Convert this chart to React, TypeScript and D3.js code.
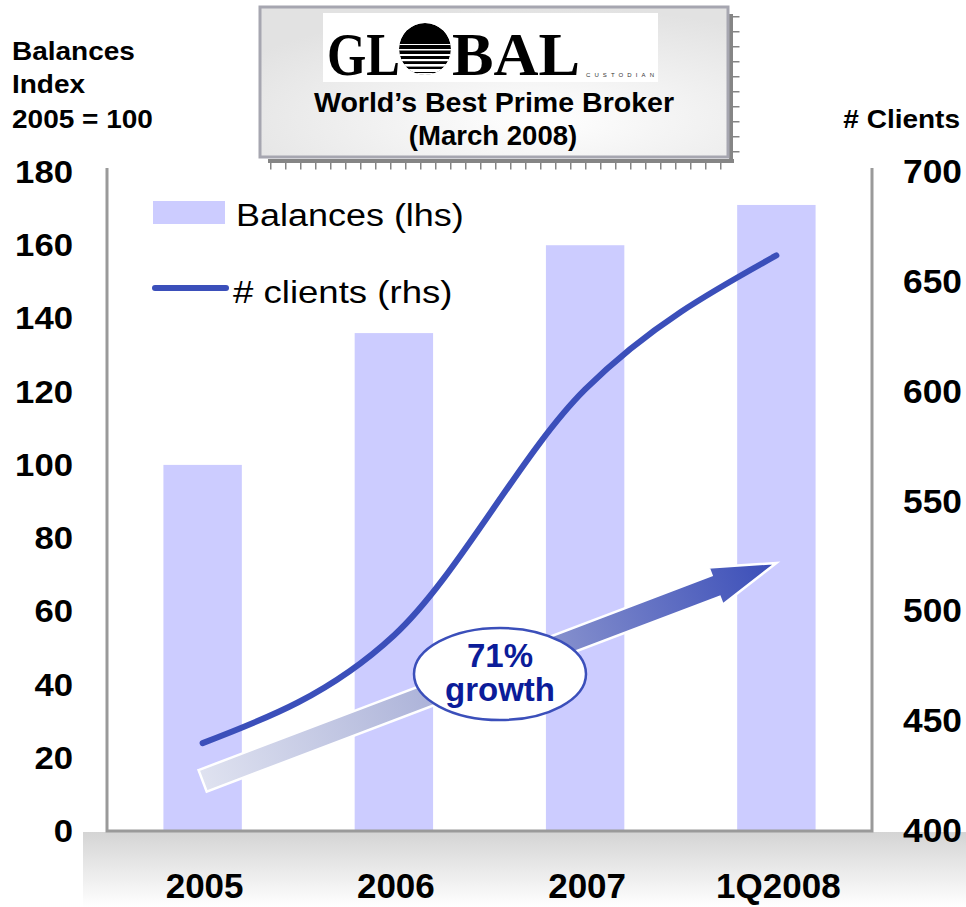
import React from "react";
import * as d3 from "d3";

const categories = ["2005", "2006", "2007", "1Q2008"];
const balances = [100, 136, 160, 171];
const clients = [440, 489, 601, 662];
const leftTicks = [0, 20, 40, 60, 80, 100, 120, 140, 160, 180];
const rightTicks = [400, 450, 500, 550, 600, 650, 700];

const W = 966;
const H = 907;
const FONT = "'Liberation Sans', Arial, Helvetica, sans-serif";
const SERIF = "'Liberation Serif', 'Times New Roman', serif";
const BAR = "#CCCCFF";
const LINE = "#3B4FBA";

type TProps = {
  x: number;
  y: number;
  size: number;
  sx?: number;
  anchor?: "start" | "middle" | "end";
  weight?: string | number;
  fill?: string;
  family?: string;
  children: React.ReactNode;
};

function T({ x, y, size, sx = 1, anchor = "start", weight = "bold", fill = "#000", family = FONT, children }: TProps) {
  return (
    <text
      transform={`translate(${x},${y}) scale(${sx},1)`}
      fontSize={size}
      fontFamily={family}
      fontWeight={weight}
      textAnchor={anchor}
      fill={fill}
    >
      {children}
    </text>
  );
}

export default function App() {
  const plotL = 107;
  const plotR = 872;
  const plotB = 831;
  const plotT = 172;
  const frameT = 168;

  const x = d3.scaleBand<string>().domain(categories).range([plotL, plotR]).padding(0);
  const cx = (c: string) => (x(c) as number) + x.bandwidth() / 2;
  const barW = x.bandwidth() * 0.41;
  const yL = d3.scaleLinear().domain([0, 180]).range([plotB, plotT]);
  const yR = d3.scaleLinear().domain([400, 700]).range([plotB, plotT]);

  const linePath = d3
    .line<number>()
    .x((_, i) => cx(categories[i]))
    .y((d) => yR(d))
    .curve(d3.curveMonotoneX)(clients) as string;

  // growth arrow annotation (from 2005 to 1Q2008, in lhs units)
  const tail: [number, number] = [cx(categories[0]), yL(13.7)];
  const tip: [number, number] = [cx(categories[3]), yL(73.2)];
  const dx = tip[0] - tail[0];
  const dy = tip[1] - tail[1];
  const len = Math.hypot(dx, dy);
  const ux = dx / len, uy = dy / len;
  const nx = -uy, ny = ux;
  const shaftHW = 11.5, headHW = 20, headLen = 65;
  const base: [number, number] = [tip[0] - headLen * ux, tip[1] - headLen * uy];
  const pts: [number, number][] = [
    [tail[0] - shaftHW * nx, tail[1] - shaftHW * ny],
    [base[0] - shaftHW * nx, base[1] - shaftHW * ny],
    [base[0] - headHW * nx, base[1] - headHW * ny],
    tip,
    [base[0] + headHW * nx, base[1] + headHW * ny],
    [base[0] + shaftHW * nx, base[1] + shaftHW * ny],
    [tail[0] + shaftHW * nx, tail[1] + shaftHW * ny],
  ];
  const arrowPath = "M" + pts.map((p) => p.join(",")).join("L") + "Z";

  // globe stripes for logo
  const globeCx = 425, globeCy = 49, globeR = 26;
  const stripes = [
    { y: 44, h: 1 },
    { y: 49, h: 1.5 },
    { y: 54, h: 2 },
    { y: 59, h: 2.2 },
    { y: 64, h: 2.6 },
    { y: 69, h: 3 },
    { y: 73, h: 3 },
  ];

  return (
    <svg width={W} height={H} style={{ position: "absolute", left: 0, top: 0 }}>
      <defs>
        <linearGradient id="band" x1="0" y1="0" x2="0" y2="1">
          <stop offset="0" stopColor="#d4d4d4" />
          <stop offset="1" stopColor="#ffffff" />
        </linearGradient>
        <radialGradient id="boxGrad" cx="0.6" cy="0.75" r="0.75">
          <stop offset="0" stopColor="#ffffff" />
          <stop offset="1" stopColor="#e2e2e2" />
        </radialGradient>
        <linearGradient id="arrowGrad" gradientUnits="userSpaceOnUse" x1={tail[0]} y1={tail[1]} x2={tip[0]} y2={tip[1]}>
          <stop offset="0" stopColor="#dfe2f0" />
          <stop offset="0.45" stopColor="#a6add6" />
          <stop offset="1" stopColor="#3A4DB8" />
        </linearGradient>
        <clipPath id="globeClip">
          <circle cx={globeCx} cy={globeCy} r={globeR} />
        </clipPath>
      </defs>

      <rect x={0} y={0} width={W} height={H} fill="#fff" />

      {/* bottom gray band */}
      <rect x={83} y={plotB + 1} width={W - 83} height={H - plotB - 1} fill="url(#band)" />

      {/* bars */}
      {categories.map((c, i) => (
        <rect key={c} x={cx(c) - barW / 2} y={yL(balances[i])} width={barW} height={plotB - yL(balances[i])} fill={BAR} />
      ))}

      {/* frame */}
      <path d={`M${plotL},${frameT}V${plotB}H${plotR}V${frameT}`} fill="none" stroke="#9a9a9a" strokeWidth={3} />

      {/* clients line */}
      <path d={linePath} fill="none" stroke={LINE} strokeWidth={6} strokeLinecap="round" strokeLinejoin="round" />

      {/* growth arrow */}
      <path d={arrowPath} fill="url(#arrowGrad)" stroke="#ffffff" strokeWidth={2.5} strokeLinejoin="miter" />
      <ellipse cx={500} cy={674} rx={86} ry={46} fill="#ffffff" stroke={LINE} strokeWidth={2.5} />
      <T x={500} y={667} size={33} anchor="middle" fill="#0b1c99">71%</T>
      <T x={500} y={701} size={33} anchor="middle" fill="#0b1c99">growth</T>

      {/* legend */}
      <rect x={153} y={201} width={72} height={23} fill={BAR} />
      <T x={236} y={226} size={31} sx={1.16} weight="normal">Balances (lhs)</T>
      <line x1={155} x2={226} y1={288} y2={288} stroke={LINE} strokeWidth={6} strokeLinecap="round" />
      <T x={233} y={303} size={31} sx={1.18} weight="normal"># clients (rhs)</T>

      {/* left axis labels */}
      {leftTicks.map((v) => (
        <T key={v} x={73} y={yL(v) + 11} size={31} sx={1.12} anchor="end">{v}</T>
      ))}
      {/* right axis labels */}
      {rightTicks.map((v) => (
        <T key={v} x={903} y={yR(v) + 11} size={33} sx={1.07}>{v}</T>
      ))}
      {/* category labels */}
      {categories.map((c) => (
        <T key={c} x={cx(c) + 2} y={898} size={35} anchor="middle">{c}</T>
      ))}

      {/* axis titles */}
      <T x={12} y={60} size={25} sx={1.12}>Balances</T>
      <T x={12} y={93} size={25} sx={1.12}>Index</T>
      <T x={12} y={128} size={25} sx={1.12}>2005 = 100</T>
      <T x={960} y={128} size={25} sx={1.12} anchor="end"># Clients</T>

      {/* title box with ruler shadow */}
      <line x1={268} x2={734} y1={161} y2={161} stroke="#858585" strokeWidth={4} />
      <line x1={270} x2={734} y1={166} y2={166} stroke="#858585" strokeWidth={7} strokeDasharray="1.5 13.5" />
      <line x1={731} x2={731} y1={14} y2={163} stroke="#858585" strokeWidth={4} />
      <line x1={736} x2={736} y1={16} y2={163} stroke="#858585" strokeWidth={7} strokeDasharray="1.5 13.5" />
      <rect x={260} y={7} width={468} height={150} fill="url(#boxGrad)" stroke="#a6a6b0" strokeWidth={3} />

      {/* logo */}
      <rect x={323} y={13} width={335} height={69} fill="#ffffff" />
      <text x={327} y={75} fontFamily={SERIF} fontWeight="bold" fontSize={62} textLength={73} lengthAdjust="spacingAndGlyphs" fill="#000">GL</text>
      <g clipPath="url(#globeClip)">
        <circle cx={globeCx} cy={globeCy} r={globeR} fill="#000" />
        {stripes.map((s, i) => (
          <rect key={i} x={globeCx - globeR} y={s.y} width={globeR * 2} height={s.h} fill="#fff" />
        ))}
      </g>
      <text x={452} y={75} fontFamily={SERIF} fontWeight="bold" fontSize={62} textLength={128} lengthAdjust="spacingAndGlyphs" fill="#000">BAL</text>
      <text x={586} y={77} fontFamily={FONT} fontSize={6} textLength={68} lengthAdjust="spacing" fill="#333">CUSTODIAN</text>

      <T x={494} y={112} size={28} sx={1.02} anchor="middle">World’s Best Prime Broker</T>
      <T x={493} y={145} size={27} sx={1.02} anchor="middle">(March 2008)</T>
    </svg>
  );
}
